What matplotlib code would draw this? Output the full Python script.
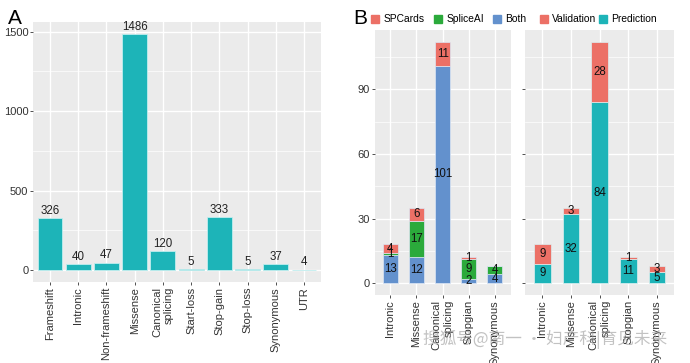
import numpy as np
import matplotlib.pyplot as plt
from matplotlib.patches import Patch

plt.rcParams['font.family'] = ['Liberation Sans', 'Noto Sans CJK SC', 'DejaVu Sans']

# panel A
a_cats = ['Frameshift', 'Intronic', 'Non-frameshift', 'Missense', 'Canonical\nsplicing',
          'Start-loss', 'Stop-gain', 'Stop-loss', 'Synonymous', 'UTR']
a_vals = [326, 40, 47, 1486, 120, 5, 333, 5, 37, 4]

# panel B
b_cats = ['Intronic', 'Missense', 'Canonical\nsplicing', 'Stopgian', 'Synonymous']
both = [13, 12, 101, 2, 4]
spliceai = [1, 17, 0, 9, 4]
spcards = [4, 6, 11, 1, 0]
prediction = [9, 32, 84, 11, 5]
validation = [9, 3, 28, 1, 3]

TEAL = '#1DB4B8'
RED = '#EC7066'
GREEN = '#2BAA3B'
BLUE = '#6391CD'
BG = '#EBEBEB'


def style_ax(ax, major, minor, ylim, nlab, labels=True):
    ax.set_facecolor(BG)
    for s in ax.spines.values():
        s.set_visible(False)
    ax.set_yticks(major)
    ax.set_yticks(minor, minor=True)
    ax.set_ylim(*ylim)
    ax.set_xlim(0.4, nlab + 0.6)
    ax.grid(which='major', color='white', lw=1.0)
    ax.grid(which='minor', axis='y', color='white', lw=0.5)
    ax.set_axisbelow(True)
    ax.tick_params(which='major', length=2.5, width=0.6, color='#333333', labelsize=8,
                   labelcolor='#333333', pad=1)
    ax.tick_params(which='minor', length=0)
    if not labels:
        ax.set_yticklabels([])


def xlabels(ax, cats):
    ax.set_xticks(np.arange(1, len(cats) + 1))
    ax.set_xticklabels(cats, rotation=90, ha='center', va='top', multialignment='right')


fig = plt.figure(figsize=(6.9, 3.63), dpi=100)

# ---- A
axA = fig.add_axes([0.048, 0.223, 0.417, 0.716])
x = np.arange(1, len(a_cats) + 1)
axA.bar(x, a_vals, width=0.88, color=TEAL, edgecolor='#BFEDEE', lw=0.6, zorder=2)
for xi, v in zip(x, a_vals):
    axA.text(xi, v + 8, str(v), ha='center', va='bottom', fontsize=8.3, color='#222222')
style_ax(axA, [0, 500, 1000, 1500], [250, 750, 1250], (-74.3, 1560), len(a_cats))
xlabels(axA, a_cats)
fig.text(0.012, 0.975, 'A', fontsize=15, va='top')

# ---- B left
axB1 = fig.add_axes([0.543, 0.187, 0.197, 0.730])
xb = np.arange(1, len(b_cats) + 1)
w = 0.58
bottom = np.zeros(len(b_cats))
for vals, col in [(both, BLUE), (spliceai, GREEN), (spcards, RED)]:
    vals = np.array(vals)
    axB1.bar(xb, vals, w, bottom=bottom, color=col, edgecolor='#DCE6F4', lw=0.5, zorder=2)
    for xi, b, v in zip(xb, bottom, vals):
        if v > 0:
            axB1.text(xi, b + v / 2, str(v), ha='center', va='center', fontsize=8.3,
                      color='#111111', zorder=3)
    bottom = bottom + vals
style_ax(axB1, [0, 30, 60, 90], [15, 45, 75, 105], (-5.6, 117.6), len(b_cats))
xlabels(axB1, b_cats)

# ---- B right
axB2 = fig.add_axes([0.761, 0.187, 0.216, 0.730])
bottom = np.zeros(len(b_cats))
for vals, col in [(prediction, TEAL), (validation, RED)]:
    vals = np.array(vals)
    axB2.bar(xb, vals, w, bottom=bottom, color=col, edgecolor='#DDEFF0', lw=0.5, zorder=2)
    for xi, b, v in zip(xb, bottom, vals):
        axB2.text(xi, b + v / 2, str(v), ha='center', va='center', fontsize=8.3,
                  color='#111111', zorder=3)
    bottom = bottom + vals
style_ax(axB2, [0, 30, 60, 90], [15, 45, 75, 105], (-5.6, 117.6), len(b_cats), labels=False)
xlabels(axB2, b_cats)

fig.text(0.512, 0.975, 'B', fontsize=15, va='top')

leg_kw = dict(loc='center left', frameon=False, fontsize=7.4, handlelength=0.8,
              handleheight=0.8, handletextpad=0.4, borderpad=0, borderaxespad=0)
h1 = [Patch(color=RED, label='SPCards'), Patch(color=GREEN, label='SpliceAI'),
      Patch(color=BLUE, label='Both')]
fig.legend(handles=h1, bbox_to_anchor=(0.538, 0.947), ncol=3, columnspacing=0.9, **leg_kw)
h2 = [Patch(color=RED, label='Validation'), Patch(color=TEAL, label='Prediction')]
fig.legend(handles=h2, bbox_to_anchor=(0.782, 0.947), ncol=2, columnspacing=0.3, **leg_kw)

# watermark
fig.text(0.79, 0.065, '搜狐号@南一 · 妇产科|育见未来', fontsize=12, ha='center', va='center',
         color='#9A9A9A', alpha=0.6, family=['Noto Sans CJK SC', 'DejaVu Sans'])

fig.savefig('out.png', dpi=100)
